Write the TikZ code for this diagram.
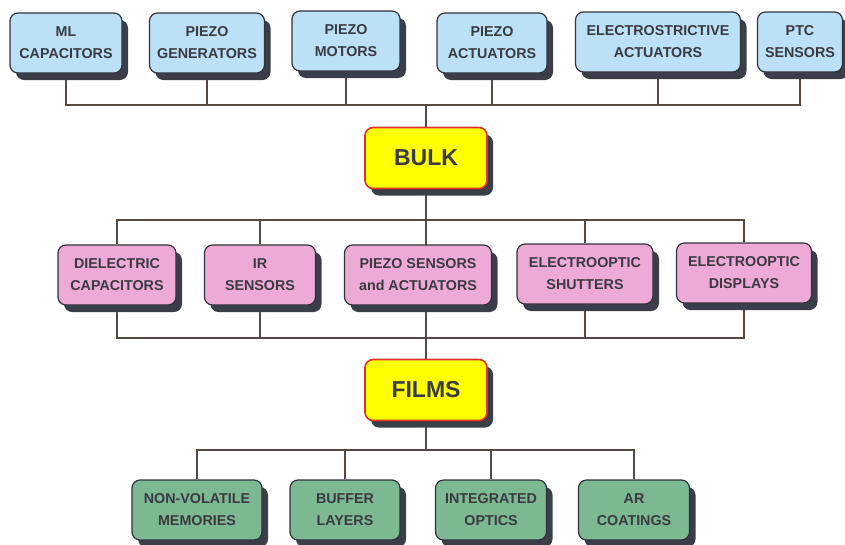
\documentclass[tikz,border=0pt]{standalone}
\usepackage{fontspec}
\setmainfont{Liberation Sans}
\usetikzlibrary{shadows, backgrounds}
\definecolor{cBlue}{RGB}{188,224,246}
\definecolor{cPink}{RGB}{238,170,214}
\definecolor{cGreen}{RGB}{124,184,146}
\definecolor{cYellow}{RGB}{255,255,0}
\definecolor{cRed}{RGB}{228,48,36}
\definecolor{cShadow}{RGB}{58,62,72}
\definecolor{cEdge}{RGB}{48,50,60}
\definecolor{cText}{RGB}{58,58,66}
\definecolor{cLine}{RGB}{86,72,66}
\tikzset{
	appbox/.style ={rectangle, rounded corners=8pt, minimum height=60pt, align=center, draw=cEdge, line width=1.2pt, text=cText, font=\bfseries\fontsize{14.3}{22}\selectfont, drop shadow={shadow xshift=6pt, shadow yshift=-7pt, fill=cShadow, opacity=1}},
	bulkapp/.style={appbox, fill=cBlue},
	midapp/.style ={appbox, fill=cPink},
	filmapp/.style={appbox, fill=cGreen},
	% the two kinds of ceramic form
	formbox/.style={rectangle, rounded corners=8pt, minimum width=122pt, minimum height=61pt, draw=cRed, line width=1.6pt, fill=cYellow, text=cText, font=\bfseries\fontsize{23}{26}\selectfont, drop shadow={shadow xshift=6pt, shadow yshift=-7pt, fill=cShadow, opacity=1}},
	link/.style   ={draw=cLine, line width=1.4pt},
}

\begin{document}
\begin{tikzpicture}[x=1pt, y=-1pt]
	\useasboundingbox (0,0) rectangle (845,544);
	% ---------------- bulk applications ----------------
	\node[bulkapp, minimum width=112pt] (ml)    at (66,43)  {ML\\CAPACITORS};
	\node[bulkapp, minimum width=115pt] (gen)   at (207,43) {PIEZO\\GENERATORS};
	\node[bulkapp, minimum width=108pt] (motor) at (346,41) {PIEZO\\MOTORS};
	\node[bulkapp, minimum width=110pt] (act)   at (492,43) {PIEZO\\ACTUATORS};
	\node[bulkapp, minimum width=165pt] (estr)  at (658,42) {ELECTROSTRICTIVE\\ACTUATORS};
	\node[bulkapp, minimum width=85pt]  (ptc)   at (800,42) {PTC\\SENSORS};
	% ---------------- forms ----------------
	\node[formbox] (bulk)  at (426,158) {BULK};
	\node[formbox] (films) at (426,390) {FILMS};
	% ---------------- bulk and film applications ----------------
	\node[midapp, minimum width=118pt] (diel) at (117,275) {DIELECTRIC\\CAPACITORS};
	\node[midapp, minimum width=111pt] (ir)   at (260,275) {IR\\SENSORS};
	\node[midapp, minimum width=147pt] (psa)  at (418,275) {PIEZO SENSORS\\and ACTUATORS};
	\node[midapp, minimum width=136pt] (shut) at (585,274) {ELECTROOPTIC\\SHUTTERS};
	\node[midapp, minimum width=135pt] (disp) at (744,273) {ELECTROOPTIC\\DISPLAYS};
	% ---------------- film applications ----------------
	\node[filmapp, minimum width=130pt] (nvm) at (197,510) {NON-VOLATILE\\MEMORIES};
	\node[filmapp, minimum width=110pt] (buf) at (345,510) {BUFFER\\LAYERS};
	\node[filmapp, minimum width=111pt] (iop) at (491,510) {INTEGRATED\\OPTICS};
	\node[filmapp, minimum width=111pt] (arc) at (634,510) {AR\\COATINGS};
	% ---------------- bus lines ----------------
	\coordinate (topbus) at (426,105);
	\coordinate (midtop) at (426,220);
	\coordinate (midbot) at (426,338);
	\coordinate (lowbus) at (426,450);
	\begin{scope}[on background layer]
		\foreach \n in {ml,gen,motor,act,estr,ptc}
			\draw[link] (\n.south) |- (topbus);
		\draw[link] (topbus) -- (bulk.north);
		\draw[link] (bulk.south) -- (films.north);
		\foreach \n in {diel,ir,shut,disp} {
			\draw[link] (\n.north) |- (midtop);
			\draw[link] (\n.south) |- (midbot);
		}
		\draw[link] (films.south) -- (lowbus);
		\foreach \n in {nvm,buf,iop,arc}
			\draw[link] (\n.north) |- (lowbus);
	\end{scope}
\end{tikzpicture}
\end{document}
